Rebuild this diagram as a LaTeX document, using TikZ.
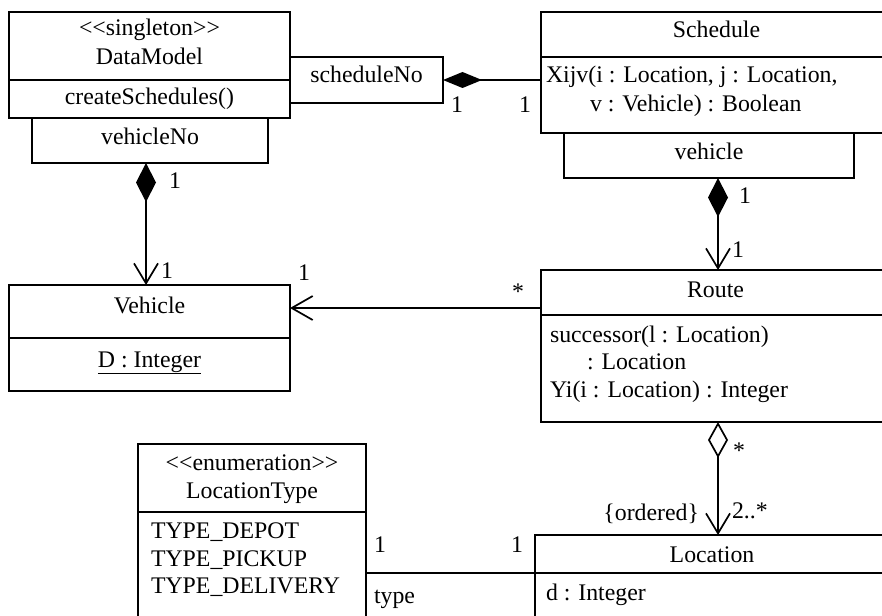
\documentclass[tikz,border=0pt]{standalone}
\usepackage{fontspec}
\setmainfont{Liberation Serif}
\usetikzlibrary{arrows.meta}
\begin{document}
\begin{tikzpicture}[x=1pt,y=-1pt,line width=1.7pt,
  every node/.style={font=\fontsize{23.8}{28}\selectfont, inner sep=0pt, outer sep=0pt},
  box/.style={draw, anchor=north west},
  txt/.style={anchor=base},
  ltxt/.style={anchor=base west},
  comp/.style={{Diamond[length=39pt,width=20pt]}-{Straight Barb[length=20pt,width=24pt]}},
  nav/.style={-{Straight Barb[length=21pt,width=24pt]}}]
\path[use as bounding box] (0,0) rectangle (882,615);
\clip (0,0) rectangle (882,615);
% class boxes
\node[box, minimum width=281pt, minimum height=106pt] (dm) at (9,12) {};
\node[box, minimum width=153pt, minimum height=46pt] (sno) at (290,57) {};
\node[box, minimum width=236pt, minimum height=45pt] (vno) at (32,118) {};
\node[box, minimum width=281pt, minimum height=106pt] (veh) at (9,285) {};
\node[box, minimum width=350pt, minimum height=121pt] (sch) at (541,12) {};
\node[box, minimum width=290pt, minimum height=45pt] (vq) at (564,133) {};
\node[box, minimum width=350pt, minimum height=152pt] (rt) at (541,270) {};
\node[box, minimum width=354pt, minimum height=100pt] (loc) at (535,535) {};
\node[box, minimum width=228pt, minimum height=200pt] (lt) at (138,444) {};
\node[box, minimum width=169pt, minimum height=60pt] (tq) at (366,573) {};
% compartment dividers
\draw (dm.west |- 0,80) -- (dm.east |- 0,80);
\draw (veh.west |- 0,338) -- (veh.east |- 0,338);
\draw (sch.west |- 0,57) -- (sch.east |- 0,57);
\draw (rt.west |- 0,315) -- (rt.east |- 0,315);
\draw (loc.west |- 0,573) -- (loc.east |- 0,573);
\draw (lt.west |- 0,512) -- (lt.east |- 0,512);
% texts
\node[txt] (dm1) at (149.5,36) {<\kern0pt<singleton>\kern0pt>};
\node[txt] (dm2) at (149.5,65) {DataModel};
\node[txt] (dm3) at (149.5,105) {createSchedules()};
\node[txt] (sno1) at (366.5,83) {scheduleNo};
\node[txt] (vno1) at (150,144) {vehicleNo};
\node[txt] (veh1) at (149.5,313) {Vehicle};
\node[txt] (veh2) at (149.5,367) {\underline{D : Integer}};
\node[txt] (sch1) at (716.5,38) {Schedule};
\node[ltxt] (sch2) at (546,83) {Xijv(i : Location, j : Location,};
\node[ltxt] (sch3) at (590,111) {v : Vehicle) : Boolean};
\node[txt] (vq1) at (709,159) {vehicle};
\node[txt] (rt1) at (715.5,297) {Route};
\node[ltxt] (rt2) at (550,342) {successor(l : Location)};
\node[ltxt] (rt3) at (587,369.5) {: Location};
\node[ltxt] (rt4) at (550,397) {Yi(i : Location) : Integer};
\node[txt] (loc1) at (712,562) {Location};
\node[ltxt] (loc2) at (546,600) {d : Integer};
\node[txt] (lt1) at (252,470) {<\kern0pt<enumeration>\kern0pt>};
\node[txt] (lt2) at (252,498) {LocationType};
\node[ltxt] (lt3) at (151,538) {TYPE\_DEPOT};
\node[ltxt] (lt4) at (151,566) {TYPE\_PICKUP};
\node[ltxt] (lt5) at (151,593) {TYPE\_DELIVERY};
\node[ltxt] (tq1) at (374,603) {type};
% connectors
\draw[comp] (146,0 |- vno.south) -- (146,0 |- veh.north);
\draw[{Diamond[length=39pt,width=16pt]}-] (sno.east) -- (sno.east -| sch.west);
\draw[comp] (718,0 |- vq.south) -- (718,0 |- rt.north);
\draw[{Diamond[open,fill=white,length=36pt,width=20pt]}-{Straight Barb[length=20pt,width=24pt]}] (718,0 |- rt.south) -- (718,0 |- loc.north);
\draw[nav] (rt.west |- 0,308) -- (veh.east |- 0,308);
% multiplicities
\node[txt] (m1) at (175,188) {1};
\node[txt] (m2) at (167,278) {1};
\node[txt] (m3) at (304,280) {1};
\node[txt] (m4) at (518,299) {*};
\node[txt] (m5) at (457,112) {1};
\node[txt] (m6) at (525,112) {1};
\node[txt] (m7) at (745,203) {1};
\node[txt] (m8) at (738,257) {1};
\node[txt] (m9) at (739,458) {*};
\node[anchor=base east] (m10) at (699,520) {\{ordered\}};
\node[ltxt] (m11) at (732,518) {2..*};
\node[txt] (m12) at (380,552) {1};
\node[txt] (m13) at (517,552) {1};
\end{tikzpicture}
\end{document}
